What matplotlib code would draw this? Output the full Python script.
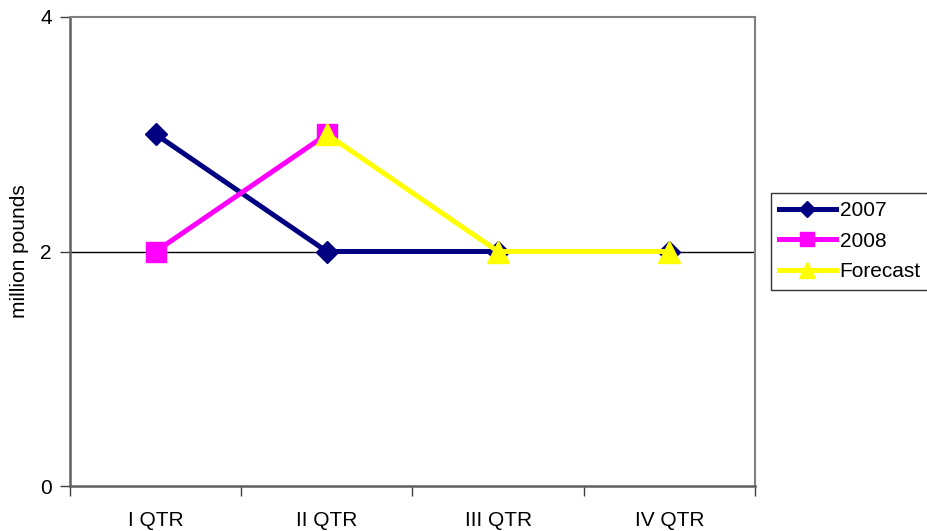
import matplotlib.pyplot as plt
import numpy as np

plt.rcParams['font.family'] = ['Liberation Sans', 'DejaVu Sans']

quarters = ["I QTR", "II QTR", "III QTR", "IV QTR"]
sales_2007 = [3, 2, 2, 2]
sales_2008 = [2, 3, None, None]
forecast = [None, 3, 2, 2]


def as_array(values):
    return np.array([np.nan if v is None else v for v in values], dtype=float)


fig = plt.figure(figsize=(9.28, 5.31), dpi=100)
ax = fig.add_axes([70 / 928, 45 / 531, 685 / 928, 469 / 531])

x = np.arange(len(quarters))
ax.plot(x, as_array(sales_2007), color="#000080", lw=3.6, marker="D",
        markersize=11, label="2007", zorder=3)
ax.plot(x, as_array(sales_2008), color="#FF00FF", lw=3.6, marker="s",
        markersize=14, label="2008", zorder=4)
ax.plot(x, as_array(forecast), color="#FFFF00", lw=3.6, marker="^",
        markersize=16, label="Forecast", zorder=5)

ax.set_xlim(-0.5, len(quarters) - 0.5)
ax.set_ylim(0, 4)
ax.set_yticks([0, 2, 4])
ax.axhline(2, color="black", lw=1, zorder=1)

ax.set_xticks(x)
ax.set_xticklabels(quarters)
ax.set_xticks(np.arange(-0.5, len(quarters)), minor=True)
ax.tick_params(axis="x", which="major", length=0, pad=18, labelsize=15)
ax.tick_params(axis="x", which="minor", length=7, width=1, color="#404040")
ax.tick_params(axis="y", length=7, width=1, color="#404040", labelsize=15, pad=6)

for side in ["top", "right"]:
    ax.spines[side].set_color("#808080")
    ax.spines[side].set_linewidth(1.5)
for side in ["left", "bottom"]:
    ax.spines[side].set_color("#606060")
    ax.spines[side].set_linewidth(1.8)

ax.set_ylabel("million pounds", fontsize=15, labelpad=8)

leg = fig.legend(loc="upper left", bbox_to_anchor=(771 / 928, 1 - 193 / 531),
                 fontsize=15, frameon=True, fancybox=False, handlelength=2.7,
                 handletextpad=0.2, labelspacing=0.55, borderpad=0.4,
                 borderaxespad=0, markerscale=0.75)
leg.get_frame().set_edgecolor("black")
leg.get_frame().set_linewidth(1)

fig.savefig("out.png", dpi=100)
